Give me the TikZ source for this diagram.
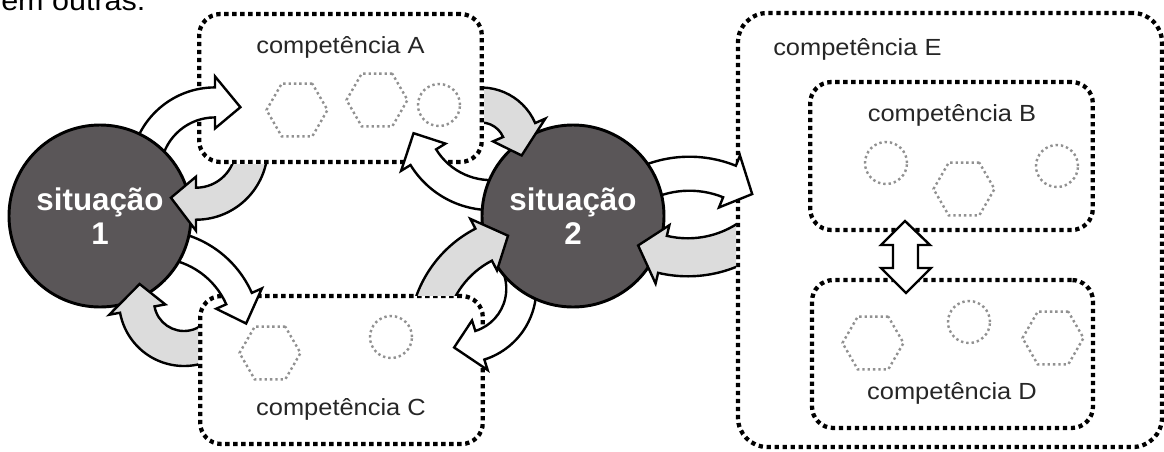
\documentclass[tikz,border=0pt]{standalone}
\usepackage{fontspec}
\setmainfont{Liberation Sans}
\newfontfamily\labelfont{Liberation Sans}[FakeStretch=1.09]
\usepackage{tikz}
\usetikzlibrary{shapes,positioning}
\definecolor{sitgray}{RGB}{90,86,88}
\definecolor{backgray}{RGB}{220,220,220}
\definecolor{ghostgray}{RGB}{145,145,145}

\tikzset{
 situation/.style={circle, draw=black, line width=2.2pt, fill=sitgray, minimum size=136.5pt, inner sep=0pt, text=white, align=center, font=\bfseries\fontsize{23.5pt}{25.5pt}\selectfont},
 compbox/.style={draw=black, line width=3.2pt, dash pattern=on 3.2pt off 2.8pt, rounded corners=16pt, fill=white, minimum width=212pt, minimum height=111pt},
 complabel/.style={font=\labelfont\fontsize{17.5pt}{18pt}\selectfont, text=black!85, anchor=base, inner sep=0pt},
 ghosthex/.style={regular polygon, regular polygon sides=6, draw=ghostgray, line width=1.8pt, dash pattern=on 1.8pt off 2.2pt, minimum size=45.75pt, inner sep=0pt},
 ghostcirc/.style={circle, draw=ghostgray, line width=1.8pt, dash pattern=on 1.8pt off 2.2pt, minimum size=31.5pt, inner sep=0pt},
 arrowline/.style={draw=black, line width=1.8pt, line join=miter}
}

% centre x, centre y, radius, tail angle, head angle, band width, fill
\newcommand{\fatarrow}[7]{%
 \pgfmathsetmacro{\fatOut}{#3+#6/2}
 \pgfmathsetmacro{\fatIn}{#3-#6/2}
 \pgfmathsetmacro{\fatHeadOut}{#3+#6/2+11}
 \pgfmathsetmacro{\fatHeadIn}{#3-#6/2-11}
 \pgfmathsetmacro{\fatTip}{#5+26/#3*57.3}
 \begin{scope}[shift={(#1,#2)}]
 \draw[arrowline, fill=#7] (#4:\fatOut) arc[start angle=#4, end angle=#5, radius=\fatOut] -- (#5:\fatHeadOut) -- (\fatTip:#3) -- (#5:\fatHeadIn) -- (#5:\fatIn) arc[start angle=#5, end angle=#4, radius=\fatIn] -- cycle;
 \end{scope}}

\begin{document}
\begin{tikzpicture}[x=0.75pt,y=-0.75pt]
\fill[white] (0,0) rectangle (1164,451);
\useasboundingbox (0,0) rectangle (1164,451);
%line cut off above
\node[anchor=base west, inner sep=0pt, font=\labelfont\fontsize{21pt}{21pt}\selectfont] (prevline) at (1,10) {em outras.};
%competence boxes
\node[compbox] (boxA) at (340.5,88) {};
\node[compbox] (boxC) at (341.5,370) {};
\node[compbox, rounded corners=22pt, minimum width=318pt, minimum height=325.5pt] (boxE) at (950,230) {};
\node[compbox] (boxB) at (951.5,156) {};
\node[compbox, minimum width=210.75pt] (boxD) at (952.5,354) {};
\node[complabel] (labA) at (340.5,53) {competência A};
\node[complabel] (labC) at (341,415) {competência C};
\node[complabel, anchor=base west] (labE) at (773,55) {competência E};
\node[complabel] (labB) at (952,121) {competência B};
\node[complabel] (labD) at (952,399) {competência D};
%faint shapes inside the boxes
\node[ghosthex] (hexA1) at (297,110) {};
\node[ghosthex] (hexA2) at (377,100) {};
\node[ghostcirc] (cirA) at (439,105) {};
\node[ghosthex] (hexC) at (270,353) {};
\node[ghostcirc] (cirC) at (391,337) {};
\node[ghostcirc] (cirB1) at (886,163) {};
\node[ghosthex] (hexB) at (964,189) {};
\node[ghostcirc] (cirB2) at (1057,166) {};
\node[ghosthex] (hexD1) at (873,343) {};
\node[ghostcirc] (cirD) at (969,322) {};
\node[ghosthex] (hexD2) at (1053,338) {};
%double arrow between B and D
\draw[arrowline, fill=white] (905,221) -- (930,245) -- (918,245) -- (918,268) -- (931,268) -- (906,293) -- (881,268) -- (893,268) -- (893,245) -- (881,245) -- cycle;
%arrows leaving the situations
\fatarrow{215}{172}{69.6}{-170}{-90}{30}{white}
\fatarrow{155}{336}{92}{-85}{-24}{28}{white}
\fatarrow{491}{115.7}{79.4}{80}{148.5}{30}{white}
\fatarrow{462}{288.7}{59.3}{-30}{72.5}{30}{white}
\fatarrow{689.4}{280.7}{107}{-120}{-68}{34}{white}
%situations
\node[situation] (sit1) at (100,216) {situação\\1};
\node[situation] (sit2) at (573,216) {situação\\2};
%arrows coming back from the boxes
\begin{scope} \clip (0,164) rectangle (1164,451); \fatarrow{196}{148}{55.7}{0}{90}{32}{backgray} \end{scope}
\begin{scope} \clip (0,0) rectangle (198,451); \fatarrow{184}{301}{47.5}{50}{169.6}{35}{backgray} \end{scope}
\begin{scope} \clip (484,0) rectangle (1164,451); \fatarrow{481}{146.6}{41.6}{-110}{-23.5}{35}{backgray} \end{scope}
\begin{scope} \clip (0,0) rectangle (1164,295); \fatarrow{531.6}{337.5}{104.5}{190}{242.7}{36}{backgray} \end{scope}
\begin{scope} \clip (0,0) rectangle (736,451); \fatarrow{687.8}{147.3}{110}{50}{103.3}{38}{backgray} \end{scope}
\end{tikzpicture}
\end{document}
